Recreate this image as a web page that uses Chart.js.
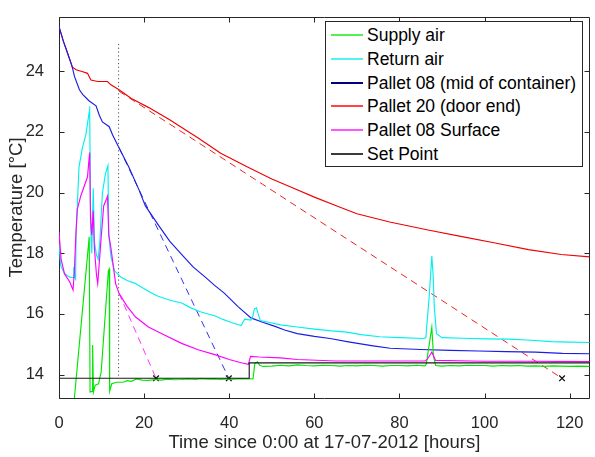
<!DOCTYPE html>
<html><head><meta charset="utf-8">
<script src="https://cdn.jsdelivr.net/npm/chart.js@4"></script>
<style>
html,body{margin:0;padding:0;background:#fff;}
#wrap{position:relative;width:595px;height:457px;overflow:hidden;}
#legend{position:absolute;left:325px;top:21px;width:256px;height:144px;border:1px solid #262626;background:#fff;font-family:'Liberation Sans',Arial,sans-serif;font-size:17.5px;color:#000;}
.row{position:absolute;left:0;width:250px;height:24px;line-height:24px;white-space:nowrap;}
.sw{position:absolute;left:5px;top:11px;width:32px;height:2px;}
.lbl{position:absolute;left:41px;top:0;}
</style></head>
<body><div id="wrap"><canvas id="c" width="595" height="457"></canvas><div id="legend"></div></div>
<script>
const xTicks = [0, 20, 40, 60, 80, 100, 120];
const yTicks = [14, 16, 18, 20, 22, 24];

const supplyHours = [0, 3.4, 7.1, 7.3, 7.8, 7.9, 8.1, 8.5, 9.3, 9.6, 9.9, 11.6, 11.8, 11.9, 12.4, 13.5, 15.1, 16, 17, 18.2, 19.5, 21, 22.5, 24, 25.5, 27, 28.8, 30.5, 32, 33.5, 35, 36.6, 38, 39.5, 41, 42.5, 44.3, 45.6, 46.0, 46.6, 47.2, 48, 50, 52, 54, 56, 58, 60, 62, 64, 66, 68, 70, 72, 74, 76, 78, 80, 82, 84, 86, 86.3, 87.6, 88.0, 88.5, 90, 92, 94, 96, 98, 100, 102, 104, 106, 108, 110, 112, 114, 116, 118, 120, 122, 124.7];
const supplyTemp  = [12.3, 12.9, 18.54, 13.43, 13.45, 14.98, 13.43, 13.65, 13.7, 13.91, 14.07, 17.42, 17.48, 13.45, 13.7, 13.75, 13.75, 13.8, 13.78, 13.86, 13.82, 13.81, 13.84, 13.82, 13.85, 13.83, 13.84, 13.86, 13.84, 13.87, 13.85, 13.86, 13.84, 13.86, 13.85, 13.87, 13.86, 13.87, 14.36, 14.42, 14.3, 14.27, 14.28, 14.31, 14.29, 14.32, 14.3, 14.29, 14.31, 14.3, 14.28, 14.3, 14.29, 14.31, 14.3, 14.28, 14.3, 14.3, 14.29, 14.31, 14.29, 14.35, 15.56, 14.6, 14.3, 14.28, 14.3, 14.29, 14.31, 14.3, 14.3, 14.28, 14.3, 14.29, 14.3, 14.28, 14.29, 14.27, 14.29, 14.28, 14.27, 14.28, 14.27];

const returnHours = [0, 0.4, 1.2, 1.9, 2.7, 3.3, 3.5, 3.7, 3.9, 4.0, 4.7, 5.5, 6.3, 7.1, 7.2, 7.45, 7.7, 8.05, 8.3, 8.8, 9.2, 9.6, 10.2, 10.9, 11.5, 11.7, 12.2, 13.0, 14.5, 16, 18, 19.2, 21.1, 23, 25, 27, 28.8, 31, 33, 35, 36.6, 38.5, 40.5, 42.8, 43.6, 45.1, 45.6, 45.9, 46.4, 46.8, 47.3, 50, 52.1, 56, 60, 64, 67.6, 71, 75.3, 80, 85.8, 86.2, 87.0, 87.6, 87.9, 88.2, 88.7, 90, 95, 100, 105.6, 110, 115.7, 120, 124.7];
const returnTemp  = [18.35, 17.6, 17.35, 17.27, 17.2, 17.2, 17.55, 17.2, 17.15, 18.6, 20.84, 21.48, 21.9, 22.65, 22.84, 18.8, 18.0, 20.14, 18.4, 17.95, 17.8, 18.4, 19.98, 20.62, 20.89, 18.6, 17.9, 17.43, 17.22, 17.1, 17.0, 16.9, 16.74, 16.6, 16.5, 16.42, 16.36, 16.2, 16.08, 16.0, 15.94, 15.82, 15.72, 15.62, 15.83, 15.8, 15.95, 16.17, 16.2, 16.0, 15.78, 15.7, 15.64, 15.57, 15.5, 15.44, 15.4, 15.32, 15.25, 15.22, 15.19, 15.22, 16.6, 17.91, 17.3, 16.2, 15.35, 15.22, 15.2, 15.18, 15.17, 15.14, 15.09, 15.07, 15.06];

const midHours = [0, 1, 2, 3, 3.65, 4.8, 5.6, 7.1, 8.7, 9.5, 10.2, 11.8, 12.6, 14.1, 16.4, 18.8, 20.3, 23.4, 26, 28.8, 31.5, 34.3, 36.5, 38.9, 42, 45.1, 48, 50.6, 53, 56, 60, 63.7, 68, 73.8, 77.8, 85, 92, 98.6, 105, 112, 118.3, 124.7];
const midTemp  = [25.47, 25.0, 24.6, 24.2, 23.82, 23.39, 23.23, 23.02, 22.86, 22.54, 22.33, 22.17, 21.9, 21.48, 20.84, 20.09, 19.56, 18.92, 18.4, 17.96, 17.55, 17.22, 16.95, 16.68, 16.25, 15.87, 15.72, 15.6, 15.47, 15.35, 15.26, 15.19, 15.08, 14.95, 14.87, 14.83, 14.8, 14.78, 14.76, 14.74, 14.7, 14.69];

const doorHours = [0, 1, 2, 3.1, 4, 5.6, 6.7, 7.1, 7.5, 9.1, 11.4, 12.2, 14.1, 17, 21.1, 26, 32.7, 38, 44.3, 50, 55, 60, 65.3, 70, 77.7, 87, 94.7, 102.5, 110.3, 118, 124.7];
const doorTemp  = [25.47, 25.0, 24.6, 24.14, 24.05, 23.98, 23.93, 23.82, 23.71, 23.66, 23.66, 23.55, 23.39, 23.1, 22.8, 22.4, 21.8, 21.3, 20.84, 20.45, 20.15, 19.85, 19.56, 19.3, 19.03, 18.76, 18.55, 18.34, 18.12, 17.96, 17.88];

const surfHours = [0, 0.5, 1.3, 2.5, 3.3, 3.6, 4.0, 4.3, 5.1, 5.9, 6.7, 7.2, 7.4, 7.7, 8.05, 8.3, 8.8, 9.1, 9.9, 10.5, 11.4, 11.7, 12.2, 13.3, 14.1, 16, 18, 21, 24.9, 28.8, 32.7, 36.6, 40, 42.8, 44.5, 45.0, 47, 52, 56, 65, 75, 86, 86.5, 87.6, 88.5, 100, 110, 124.7];
const surfTemp  = [18.7, 17.8, 17.32, 17.06, 16.79, 17.4, 18.7, 19.45, 19.88, 20.2, 20.52, 21.32, 19.2, 18.6, 19.4, 18.2, 17.3, 17.0, 18.5, 19.56, 19.88, 18.6, 18.18, 17.0, 16.68, 16.25, 15.9, 15.57, 15.3, 15.03, 14.82, 14.66, 14.5, 14.39, 14.34, 14.6, 14.58, 14.55, 14.5, 14.45, 14.45, 14.45, 14.5, 14.74, 14.47, 14.44, 14.44, 14.43];

const setHours = [0, 44.7, 44.7, 124.7];
const setTemp  = [13.88, 13.88, 14.39, 14.39];

// tangent (dashed) lines and their set-point crossings
const tanSurfHours = [14.1, 22.8];  const tanSurfTemp = [16.68, 13.88];
const tanMidHours  = [14.1, 39.9];  const tanMidTemp  = [21.48, 13.88];
const tanDoorHours = [14.1, 118.2]; const tanDoorTemp = [23.34, 13.88];
const crossHours = [22.8, 39.9, 118.2];
const crossTemp  = [13.88, 13.88, 13.88];
const markHours = [14, 14];
const markTemp  = [24.9, 13.88];

const FONT = "'Liberation Sans', Arial, sans-serif";
const AX = '#262626';
const pts = (xs, ys) => xs.map((x, i) => ({x: x, y: ys[i]}));

const line = (label, xs, ys, color, extra) => Object.assign({
  label: label, data: pts(xs, ys), borderColor: color, backgroundColor: color,
  borderWidth: 1.15, showLine: true, pointRadius: 0, fill: false, tension: 0
}, extra || {});

const datasets = [
  line('Set Point', setHours, setTemp, '#1a1a1a', {legendColor: '#3a3a3a'}),
  line('', markHours, markTemp, '#555555', {borderDash: [1.2, 2.6], borderWidth: 1, noLegend: true}),
  line('Pallet 08 Surface', surfHours, surfTemp, '#ff00ff', {legendColor: '#ff55ff'}),
  line('Supply air', supplyHours, supplyTemp, '#00e600', {legendColor: '#55ee55'}),
  line('Return air', returnHours, returnTemp, '#00f0f0', {legendColor: '#55f2f2'}),
  line('Pallet 08 (mid of container)', midHours, midTemp, '#1c1ce6', {legendColor: '#000080'}),
  line('Pallet 20 (door end)', doorHours, doorTemp, '#f00000', {legendColor: '#ff4444'}),
  line('', tanSurfHours, tanSurfTemp, '#ff33ff', {borderDash: [7, 5], borderWidth: 1, noLegend: true}),
  line('', tanMidHours, tanMidTemp, '#3333ee', {borderDash: [7, 5], borderWidth: 1, noLegend: true}),
  line('', tanDoorHours, tanDoorTemp, '#ee2222', {borderDash: [7, 5], borderWidth: 1, noLegend: true}),
  {label: '', noLegend: true, data: pts(crossHours, crossTemp), showLine: false, pointStyle: 'crossRot',
   pointRadius: 4, pointBorderColor: '#111', pointBorderWidth: 1.3, borderColor: '#111', backgroundColor: '#111'}
];

const frame = {
  id: 'frame',
  beforeDatasetsDraw(chart) {
    const {ctx, chartArea: a, scales: {x, y}} = chart;
    ctx.save();
    ctx.strokeStyle = AX; ctx.lineWidth = 1;
    ctx.beginPath();
    const L = Math.round(a.left) + 0.5, R = Math.round(a.right) - 0.5, T = Math.round(a.top) + 0.5, B = Math.round(a.bottom) + 0.5;
    ctx.moveTo(L, T); ctx.lineTo(R, T); ctx.lineTo(R, B); ctx.lineTo(L, B); ctx.closePath();
    xTicks.forEach(v => {
      const p = Math.round(x.getPixelForValue(v)) + 0.5;
      ctx.moveTo(p, B); ctx.lineTo(p, B - 5);
      ctx.moveTo(p, T); ctx.lineTo(p, T + 5);
    });
    yTicks.forEach(v => {
      const p = Math.round(y.getPixelForValue(v)) + 0.5;
      ctx.moveTo(L, p); ctx.lineTo(L + 5, p);
      ctx.moveTo(R, p); ctx.lineTo(R - 5, p);
    });
    ctx.stroke();
    ctx.restore();
  }
};

const chart = new Chart(document.getElementById('c'), {
  type: 'scatter',
  data: {datasets: datasets},
  options: {
    responsive: false, animation: false, devicePixelRatio: 1,
    layout: {padding: {top: 5, right: 0, left: 0, bottom: 0}},
    plugins: {legend: {display: false}, tooltip: {enabled: false}},
    scales: {
      x: {
        type: 'linear', min: 0, max: 124.7,
        afterBuildTicks: s => { s.ticks = xTicks.map(v => ({value: v})); },
        afterFit: s => { s.height = 59; },
        grid: {display: false}, border: {display: false},
        ticks: {padding: 8, maxRotation: 0, color: AX, font: {family: FONT, size: 16.5}},
        title: {display: true, text: 'Time since 0:00 at 17-07-2012 [hours]', color: AX,
                font: {family: FONT, size: 18.5}, padding: {top: 0, bottom: 3}}
      },
      y: {
        type: 'linear', min: 13.23, max: 25.79,
        afterBuildTicks: s => { s.ticks = yTicks.map(v => ({value: v})); },
        afterFit: s => { s.width = 59; },
        grid: {display: false}, border: {display: false},
        ticks: {padding: 7, color: AX, font: {family: FONT, size: 16.5}},
        title: {display: true, text: 'Temperature [°C]', color: AX,
                font: {family: FONT, size: 18.5}, padding: {top: 6, bottom: 0}}
      }
    }
  },
  plugins: [frame]
});

// legend box (HTML text), built from the chart's datasets
const order = ['Supply air', 'Return air', 'Pallet 08 (mid of container)', 'Pallet 20 (door end)', 'Pallet 08 Surface', 'Set Point'];
const leg = document.getElementById('legend');
order.forEach((name, i) => {
  const ds = chart.data.datasets.find(d => d.label === name);
  const row = document.createElement('div');
  row.className = 'row';
  row.style.top = (1 + 23.8 * i) + 'px';
  const sw = document.createElement('div');
  sw.className = 'sw';
  sw.style.background = ds.legendColor || ds.borderColor;
  const lb = document.createElement('span');
  lb.className = 'lbl';
  lb.textContent = ds.label;
  row.appendChild(sw); row.appendChild(lb);
  leg.appendChild(row);
});
</script></body></html>
